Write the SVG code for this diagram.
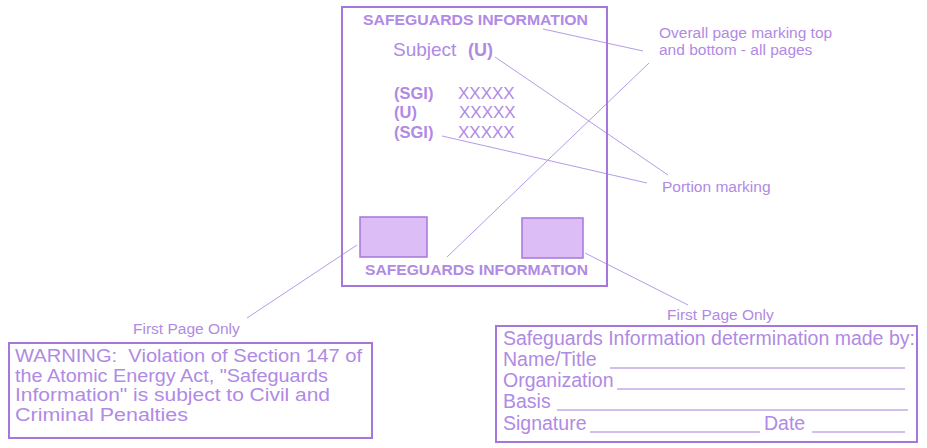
<svg xmlns="http://www.w3.org/2000/svg" width="927" height="448" viewBox="0 0 927 448">
  <style>
    .frame { fill: none; stroke: #a577dd; stroke-width: 2; }
    .stamp { fill: #dcbdf5; stroke: #a577dd; stroke-width: 1.5; }
    .lead { fill: none; stroke: #b59ae8; stroke-width: 1; }
    .rule { fill: none; stroke: #a880dd; stroke-width: 1.2; }
    text { font-family: "Liberation Sans", Arial, sans-serif; fill: #b08ae4; }
    .mark { font-weight: bold; font-size: 15px; }
    .bold { font-weight: bold; }
    .note { font-size: 15.5px; }
    .body { font-size: 19.5px; }
    .warn { font-size: 17.5px; }
  </style>
  <rect width="927" height="448" fill="#ffffff"/>

  <!-- connectors -->
  <g id="connectors">
    <line class="lead" x1="543" y1="29" x2="643" y2="51"/>
    <line class="lead" x1="447" y1="257" x2="649" y2="63"/>
    <line class="lead" x1="495" y1="57" x2="668" y2="175"/>
    <line class="lead" x1="442" y1="136" x2="647" y2="183"/>
    <line class="lead" x1="357" y1="245" x2="247" y2="318"/>
    <line class="lead" x1="585" y1="253" x2="688" y2="305"/>
  </g>

  <!-- document page -->
  <g id="page">
    <rect class="frame" x="342" y="7" width="265" height="279"/>
    <text class="mark" x="363" y="25" textLength="225" lengthAdjust="spacingAndGlyphs">SAFEGUARDS INFORMATION</text>
    <text x="393" y="56" font-size="19">Subject</text>
    <text class="bold" x="468" y="56" font-size="18">(U)</text>
    <text class="bold" x="394" y="99" font-size="16.5">(SGI)</text>
    <text x="458" y="99" font-size="17">XXXXX</text>
    <text class="bold" x="394" y="118" font-size="16.5">(U)</text>
    <text x="459" y="118" font-size="17">XXXXX</text>
    <text class="bold" x="394" y="138" font-size="16.5">(SGI)</text>
    <text x="458" y="138" font-size="17">XXXXX</text>
    <text class="mark" x="365" y="275" textLength="223" lengthAdjust="spacingAndGlyphs">SAFEGUARDS INFORMATION</text>
  </g>

  <g id="stamp-left">
    <rect class="stamp" x="360" y="217" width="67" height="40"/>
  </g>
  <g id="stamp-right">
    <rect class="stamp" x="522" y="218" width="61" height="40"/>
  </g>

  <!-- callouts -->
  <g id="overall-note">
    <text class="note" x="659" y="38">Overall page marking top</text>
    <text class="note" x="659" y="55">and bottom - all pages</text>
  </g>
  <g id="portion-note">
    <text class="note" x="662" y="192">Portion marking</text>
  </g>

  <!-- warning block -->
  <g id="warning">
    <text class="note" x="133" y="334">First Page Only</text>
    <rect class="frame" x="9" y="343" width="363" height="95"/>
    <text class="warn" x="15" y="362" xml:space="preserve" textLength="347" lengthAdjust="spacingAndGlyphs">WARNING:  Violation of Section 147 of</text>
    <text class="warn" x="15" y="381.5" textLength="313" lengthAdjust="spacingAndGlyphs">the Atomic Energy Act, "Safeguards</text>
    <text class="warn" x="15" y="401" textLength="315" lengthAdjust="spacingAndGlyphs">Information" is subject to Civil and</text>
    <text class="warn" x="15" y="420.5" textLength="173" lengthAdjust="spacingAndGlyphs">Criminal Penalties</text>
  </g>

  <!-- determination block -->
  <g id="determination">
    <text class="note" x="667" y="320">First Page Only</text>
    <rect class="frame" x="496" y="326" width="421" height="116"/>
    <text class="body" x="503" y="345">Safeguards Information determination made by:</text>
    <text class="body" x="503" y="366">Name/Title</text>
    <line class="rule" x1="610" y1="368" x2="905" y2="368"/>
    <text class="body" x="503" y="387">Organization</text>
    <line class="rule" x1="617" y1="389" x2="905" y2="389"/>
    <text class="body" x="503" y="408">Basis</text>
    <line class="rule" x1="557" y1="410" x2="908" y2="410"/>
    <text class="body" x="503" y="430">Signature</text>
    <line class="rule" x1="590" y1="432" x2="760" y2="432"/>
    <text class="body" x="764" y="430">Date</text>
    <line class="rule" x1="812" y1="432" x2="905" y2="432"/>
  </g>
</svg>
